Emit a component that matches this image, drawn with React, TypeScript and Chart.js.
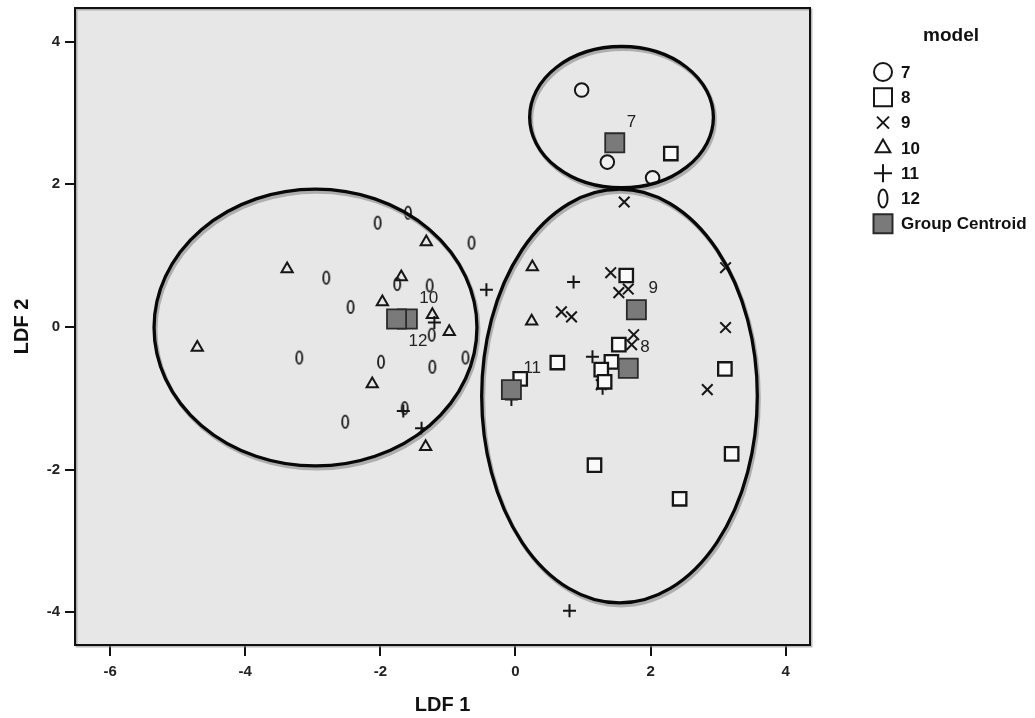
import React, { useEffect, useRef } from 'react';
import { Chart, registerables } from 'chart.js';

Chart.register(...registerables);

// ---- data (LDF 1, LDF 2) ----
const xTicks = [-6, -4, -2, 0, 2, 4];
const yTicks = [-4, -2, 0, 2, 4];
const xRange = [-6.52, 4.36];
const yRange = [-4.46, 4.47];

const model7 = [[0.98, 3.32], [1.36, 2.31], [2.03, 2.09]];
const model8 = [[2.30, 2.43], [1.64, 0.72], [1.53, -0.25], [1.42, -0.49], [1.27, -0.60], [1.32, -0.77], [0.62, -0.50], [0.07, -0.73], [3.10, -0.59], [1.17, -1.94], [2.43, -2.41], [3.20, -1.78]];
const model9 = [[1.61, 1.75], [1.41, 0.76], [1.53, 0.48], [1.67, 0.53], [3.11, 0.83], [0.68, 0.21], [0.83, 0.14], [3.11, -0.01], [1.75, -0.11], [1.72, -0.25], [1.27, -0.81], [2.84, -0.88]];
const model10 = [[-1.32, 1.19], [-3.38, 0.81], [-1.69, 0.70], [-1.97, 0.35], [-1.23, 0.17], [-0.98, -0.07], [-4.71, -0.29], [-2.12, -0.80], [-1.33, -1.68], [0.25, 0.84], [0.24, 0.08]];
const model11 = [[-0.43, 0.52], [0.86, 0.63], [-1.20, 0.06], [-1.66, -1.18], [-1.39, -1.42], [1.14, -0.42], [1.29, -0.86], [-0.06, -1.02], [0.80, -3.98]];
const model12 = [[-2.04, 1.46], [-1.59, 1.60], [-0.65, 1.18], [-2.80, 0.69], [-1.75, 0.60], [-1.27, 0.58], [-2.44, 0.28], [-1.24, -0.11], [-3.20, -0.43], [-1.99, -0.49], [-1.23, -0.56], [-0.74, -0.43], [-1.64, -1.14], [-2.52, -1.33]];

const centroidLabels = ['7', '8', '9', '10', '11', '12'];
const centroidX = [1.47, 1.67, 1.79, -1.60, -0.06, -1.76];
const centroidY = [2.58, -0.58, 0.24, 0.11, -0.88, 0.11];

const ellipseCx = [1.57, -2.96, 1.54];
const ellipseCy = [2.94, -0.01, -0.97];
const ellipseRx = [1.36, 2.39, 2.04];
const ellipseRy = [0.99, 1.94, 2.90];

const legendTitle = 'model';
const legendLabels = ['7', '8', '9', '10', '11', '12', 'Group Centroid'];
const legendStyles = ['circle', 'rect', 'crossRot', 'triangle', 'cross', 'zero', 'centroid'];

const xTitle = 'LDF 1';
const yTitle = 'LDF 2';

const FONT = '"Liberation Sans", Arial, sans-serif';
const INK = '#161616';

function drawLegendMarker(ctx: CanvasRenderingContext2D, style: string, x: number, y: number) {
  ctx.save();
  ctx.strokeStyle = INK;
  ctx.lineWidth = 2;
  ctx.beginPath();
  if (style === 'circle') {
    ctx.arc(x, y, 9, 0, Math.PI * 2);
    ctx.fillStyle = '#fff';
    ctx.fill();
    ctx.stroke();
  } else if (style === 'rect') {
    ctx.fillStyle = '#fff';
    ctx.rect(x - 9, y - 9, 18, 18);
    ctx.fill();
    ctx.stroke();
  } else if (style === 'crossRot') {
    ctx.moveTo(x - 6, y - 6); ctx.lineTo(x + 6, y + 6);
    ctx.moveTo(x + 6, y - 6); ctx.lineTo(x - 6, y + 6);
    ctx.stroke();
  } else if (style === 'triangle') {
    const r = 8.5;
    ctx.moveTo(x, y - r);
    ctx.lineTo(x + r * 0.866, y + r * 0.5);
    ctx.lineTo(x - r * 0.866, y + r * 0.5);
    ctx.closePath();
    ctx.stroke();
  } else if (style === 'cross') {
    ctx.moveTo(x - 9, y); ctx.lineTo(x + 9, y);
    ctx.moveTo(x, y - 9); ctx.lineTo(x, y + 9);
    ctx.stroke();
  } else if (style === 'zero') {
    ctx.ellipse(x, y, 4.5, 9, 0, 0, Math.PI * 2);
    ctx.stroke();
  } else if (style === 'centroid') {
    ctx.fillStyle = '#7a7a7a';
    ctx.strokeStyle = '#2a2a2a';
    ctx.rect(x - 9.5, y - 9.5, 19, 19);
    ctx.fill();
    ctx.stroke();
  }
  ctx.restore();
}

const decorPlugin = {
  id: 'decor',
  beforeDraw(chart: any) {
    const { ctx, chartArea } = chart;
    const { left, top, right, bottom } = chartArea;
    ctx.save();
    ctx.fillStyle = '#ffffff';
    ctx.fillRect(0, 0, chart.width, chart.height);
    ctx.fillStyle = '#e7e7e7';
    ctx.fillRect(left, top, right - left, bottom - top);
    ctx.restore();
  },
  afterDatasetsDraw(chart: any) {
    const { ctx, chartArea } = chart;
    const xs = chart.scales.x;
    const ys = chart.scales.y;
    ctx.save();
    // ellipses
    for (let i = 0; i < ellipseCx.length; i++) {
      const cx = xs.getPixelForValue(ellipseCx[i]);
      const cy = ys.getPixelForValue(ellipseCy[i]);
      const rx = Math.abs(xs.getPixelForValue(ellipseCx[i] + ellipseRx[i]) - cx);
      const ry = Math.abs(ys.getPixelForValue(ellipseCy[i] + ellipseRy[i]) - cy);
      ctx.beginPath();
      ctx.ellipse(cx + 1.5, cy + 2.5, rx, ry, 0, 0, Math.PI * 2);
      ctx.strokeStyle = 'rgba(150,150,150,0.7)';
      ctx.lineWidth = 4;
      ctx.stroke();
      ctx.beginPath();
      ctx.ellipse(cx, cy, rx, ry, 0, 0, Math.PI * 2);
      ctx.strokeStyle = '#080808';
      ctx.lineWidth = 3.3;
      ctx.stroke();
    }
    // centroid labels
    ctx.fillStyle = '#222';
    ctx.font = `17px ${FONT}`;
    ctx.textAlign = 'left';
    ctx.textBaseline = 'middle';
    for (let i = 0; i < centroidLabels.length; i++) {
      const px = xs.getPixelForValue(centroidX[i]);
      const py = ys.getPixelForValue(centroidY[i]);
      const dy = centroidLabels[i] === '12' ? 22 : -21;
      ctx.fillText(centroidLabels[i], px + 12, py + dy);
    }
    // frame
    const { left, top, right, bottom } = chartArea;
    ctx.strokeStyle = 'rgba(140,140,140,0.6)';
    ctx.lineWidth = 2;
    ctx.strokeRect(left + 1.5, top + 1.5, right - left, bottom - top);
    ctx.strokeStyle = '#111';
    ctx.lineWidth = 2;
    ctx.strokeRect(left, top, right - left, bottom - top);
    ctx.restore();
  },
  afterDraw(chart: any) {
    const { ctx } = chart;
    ctx.save();
    ctx.fillStyle = '#111';
    ctx.textBaseline = 'middle';
    ctx.textAlign = 'center';
    ctx.font = `bold 19px ${FONT}`;
    ctx.fillText(legendTitle, 951, 36);
    ctx.textAlign = 'left';
    ctx.font = `bold 17px ${FONT}`;
    for (let i = 0; i < legendLabels.length; i++) {
      const y = 72 + i * 25.3;
      drawLegendMarker(ctx, legendStyles[i], 883, y);
      ctx.fillText(legendLabels[i], 901, y + 1);
    }
    ctx.restore();
  },
};

export default function App() {
  const ref = useRef<HTMLCanvasElement>(null);

  useEffect(() => {
    const canvas = ref.current;
    if (!canvas) return;

    const zeroImg = document.createElement('canvas');
    zeroImg.width = 10;
    zeroImg.height = 16;
    const zc = zeroImg.getContext('2d')!;
    zc.strokeStyle = INK;
    zc.lineWidth = 1.8;
    zc.beginPath();
    zc.ellipse(5, 8, 3, 6.2, 0, 0, Math.PI * 2);
    zc.stroke();

    const mk = (pts: number[][]) => pts.map(([x, y]) => ({ x, y }));
    const base = {
      borderColor: INK,
      backgroundColor: 'rgba(0,0,0,0)',
      borderWidth: 2,
      order: 1,
    };

    const chart = new Chart(canvas, {
      type: 'scatter',
      data: {
        datasets: [
          { ...base, label: '7', data: mk(model7), pointStyle: 'circle', pointRadius: 6.8, backgroundColor: 'rgba(255,255,255,0.4)' },
          { ...base, label: '8', data: mk(model8), pointStyle: 'rect', pointRadius: 9.5, backgroundColor: '#fafafa', borderWidth: 2.3 },
          { ...base, label: '9', data: mk(model9), pointStyle: 'crossRot', pointRadius: 7.5 },
          { ...base, label: '10', data: mk(model10), pointStyle: 'triangle', pointRadius: 6.5 },
          { ...base, label: '11', data: mk(model11), pointStyle: 'cross', pointRadius: 6.5 },
          { ...base, label: '12', data: mk(model12), pointStyle: zeroImg as any, pointRadius: 6 },
          {
            label: 'Group Centroid',
            data: centroidX.map((x, i) => ({ x, y: centroidY[i] })),
            pointStyle: 'rect',
            pointRadius: 13.5,
            backgroundColor: '#7a7a7a',
            borderColor: '#2a2a2a',
            borderWidth: 1.8,
            order: 0,
          },
        ] as any,
      },
      options: {
        animation: false,
        responsive: false,
        events: [],
        layout: { autoPadding: false, padding: { top: 8, right: 225, left: 0, bottom: 0 } },
        plugins: {
          legend: { display: false },
          tooltip: { enabled: false },
        },
        scales: {
          x: {
            type: 'linear',
            min: xRange[0],
            max: xRange[1],
            afterFit: (s: any) => { s.height = 73; s.paddingLeft = 0; s.paddingRight = 0; },
            afterBuildTicks: (s: any) => { s.ticks = xTicks.map((v) => ({ value: v })); },
            grid: { drawOnChartArea: false, drawTicks: true, tickLength: 11, color: '#111', lineWidth: 2 },
            border: { display: false },
            ticks: { color: '#222', font: { family: FONT, size: 15, weight: 'bold' }, padding: 7, maxRotation: 0 },
            title: { display: true, text: xTitle, color: '#111', font: { family: FONT, size: 20, weight: 'bold' }, padding: { top: 0, bottom: 1 } },
          },
          y: {
            type: 'linear',
            min: yRange[0],
            max: yRange[1],
            afterFit: (s: any) => { s.width = 75; s.paddingTop = 0; s.paddingBottom = 0; },
            afterBuildTicks: (s: any) => { s.ticks = yTicks.map((v) => ({ value: v })); },
            grid: { drawOnChartArea: false, drawTicks: true, tickLength: 10, color: '#111', lineWidth: 2 },
            border: { display: false },
            ticks: { color: '#222', font: { family: FONT, size: 15, weight: 'bold' }, padding: 5 },
            title: { display: true, text: yTitle, color: '#111', font: { family: FONT, size: 20, weight: 'bold' }, padding: { top: 10, bottom: 0 } },
          },
        },
      } as any,
      plugins: [decorPlugin],
    });

    return () => chart.destroy();
  }, []);

  return (
    <div style={{ position: 'absolute', left: 0, top: 0, width: 1035, height: 718, background: '#fff' }}>
      <canvas ref={ref} width={1035} height={718} style={{ display: 'block' }} />
    </div>
  );
}
